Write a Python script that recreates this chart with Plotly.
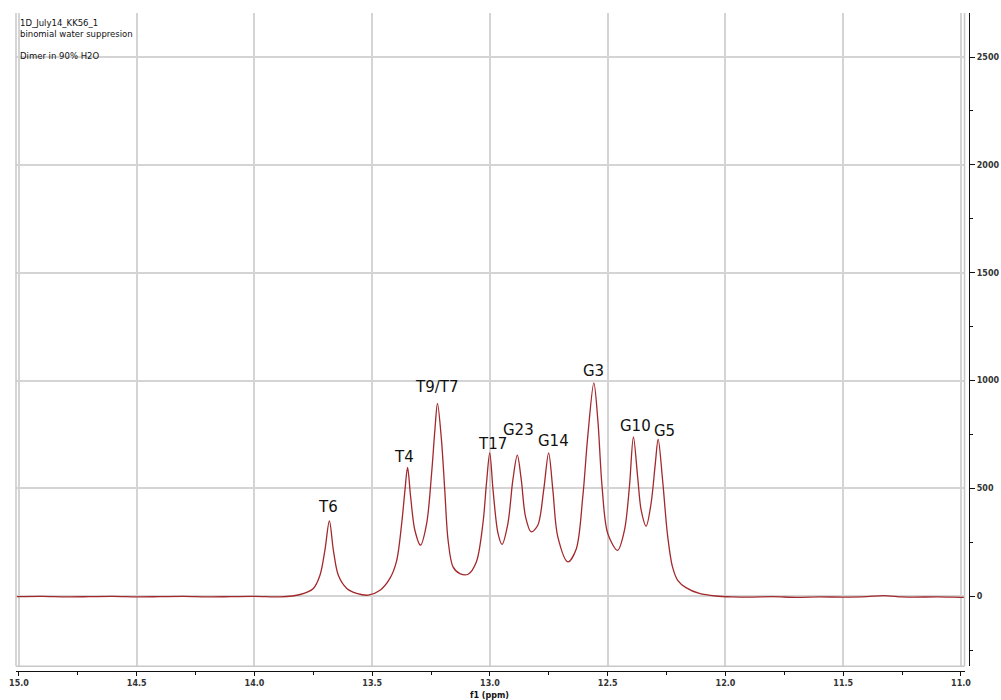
import plotly.graph_objects as go

# ---- data ----
ppm = [15.01, 14.9, 14.8, 14.7, 14.6, 14.5, 14.4, 14.3, 14.2, 14.1, 14.0, 13.95, 13.89,
       13.806, 13.750, 13.722, 13.701, 13.682, 13.665, 13.644, 13.608, 13.566, 13.517,
       13.467, 13.425, 13.397, 13.375, 13.361, 13.350, 13.337, 13.319, 13.295, 13.269,
       13.248, 13.234, 13.223, 13.206, 13.192, 13.178, 13.157, 13.128, 13.093, 13.058,
       13.030, 13.015, 13.001, 12.987, 12.966, 12.949, 12.924, 12.903, 12.884, 12.867,
       12.849, 12.825, 12.797, 12.772, 12.751, 12.733, 12.712, 12.669, 12.634, 12.606,
       12.585, 12.559, 12.542, 12.524, 12.500, 12.458, 12.429, 12.408, 12.391, 12.373,
       12.358, 12.337, 12.316, 12.298, 12.286, 12.267, 12.246, 12.225, 12.203, 12.168,
       12.111, 12.041, 11.970, 11.9, 11.8, 11.7, 11.6, 11.5, 11.4, 11.33, 11.25, 11.2,
       11.1, 11.0, 10.985]
intensity = [-2, -1, -3, -2, -1, -3, -2, -1, -3, -2, -1, -2, -3,
             8, 36, 97, 213, 349, 213, 97, 36, 13, 5,
             28, 83, 162, 337, 492, 597, 461, 306, 237, 337,
             569, 770, 894, 724, 492, 260, 136, 105, 102, 159,
             337, 523, 665, 492, 291, 240, 337, 538, 654, 538,
             368, 298, 329, 492, 665, 492, 275, 159, 218, 461,
             739, 989, 816, 507, 291, 213, 306, 507, 739, 553,
             399, 325, 430, 615, 728, 538, 283, 136, 74, 40,
             13, 1, -3, -4, -2, -5, -3, -4, -2, 3, -3, -4,
             -3, -5, -5]

peak_labels = ["T6", "T4", "T9/T7", "T17", "G23", "G14", "G3", "G10", "G5"]
label_ppm = [13.690, 13.365, 13.226, 12.990, 12.878, 12.731, 12.561, 12.384, 12.258]
label_int = [414, 645, 968, 705, 773, 720, 1045, 788, 767]

x_ticks = [15.0, 14.5, 14.0, 13.5, 13.0, 12.5, 12.0, 11.5, 11.0]
y_ticks = [0, 500, 1000, 1500, 2000, 2500]

header_lines = ["1D_July14_KK56_1", "binomial water suppresion", "", "Dimer in 90% H2O"]

fig = go.Figure()
fig.add_trace(go.Scatter(
    x=ppm, y=intensity, mode="lines",
    line=dict(color="#a3282c", width=1.3, shape="spline", smoothing=0.9),
    showlegend=False, hoverinfo="x+y"))

for lab, xp, yp in zip(peak_labels, label_ppm, label_int):
    fig.add_annotation(x=xp, y=yp, xref="x", yref="y", text=lab, showarrow=False,
                       font=dict(family="DejaVu Sans", size=15, color="#111111"))

fig.add_annotation(x=0.0025, y=0.995, xref="paper", yref="paper",
                   text="<br>".join(header_lines), showarrow=False, align="left",
                   xanchor="left", yanchor="top",
                   font=dict(family="DejaVu Sans", size=8.5, color="#111111"))

fig.add_annotation(x=13.0, y=-0.028, xref="x", yref="paper", text="f1 (ppm)",
                   showarrow=False, yanchor="top",
                   font=dict(family="DejaVu Sans", size=8, color="#111111", weight="bold"))

xdom_end = 0.9953
ydom_start = 0.0071
grid_col = "#d4d4d4"

fig.update_layout(
    width=1001, height=700,
    margin=dict(l=16, r=32, t=13, b=29, autoexpand=False),
    paper_bgcolor="white", plot_bgcolor="white",
    font=dict(family="DejaVu Sans", size=8, color="#222222"),
    xaxis=dict(domain=[0, xdom_end], range=[15.0127, 10.985], anchor="free", position=0,
               automargin=False,
               tickvals=x_ticks, ticktext=[f"{v:.1f}" for v in x_ticks],
               showgrid=True, gridcolor=grid_col, gridwidth=1.5, zeroline=False,
               showline=True, linecolor="#111111", linewidth=1.3,
               ticks="outside", ticklen=4, tickcolor="#111111", tickwidth=1,
               minor=dict(tickvals=[14.75, 14.25, 13.75, 13.25, 12.75, 12.25, 11.75, 11.25],
                          ticks="outside", ticklen=3, tickcolor="#111111", showgrid=False),
               tickfont=dict(size=8, color="#333333", weight="bold")),
    yaxis=dict(domain=[ydom_start, 1], range=[-325, 2704], side="right", anchor="free",
               position=1.0, automargin=False, tickvals=y_ticks,
               showgrid=True, gridcolor=grid_col, gridwidth=1.5, zeroline=False,
               showline=True, linecolor="#111111", linewidth=1.3,
               ticks="outside", ticklen=5, tickcolor="#111111", tickwidth=1,
               minor=dict(tickvals=[-250, 250, 750, 1250, 1750, 2250], ticks="outside",
                          ticklen=3, tickcolor="#111111", showgrid=False),
               tickfont=dict(size=8, color="#333333", weight="bold")),
)

# grey plot frame (left, bottom, right)
for x0, y0, x1, y1 in [(0, ydom_start, 0, 1), (0, ydom_start, xdom_end, ydom_start),
                       (xdom_end, ydom_start, xdom_end, 1)]:
    fig.add_shape(type="line", xref="paper", yref="paper", x0=x0, y0=y0, x1=x1, y1=y1,
                  line=dict(color="#c8c8c8", width=1.5))

fig.write_html(
    "out.html",
    config={"displayModeBar": False},
    post_script="document.body.style.margin='0';"
                "document.documentElement.style.overflow='hidden';",
)
